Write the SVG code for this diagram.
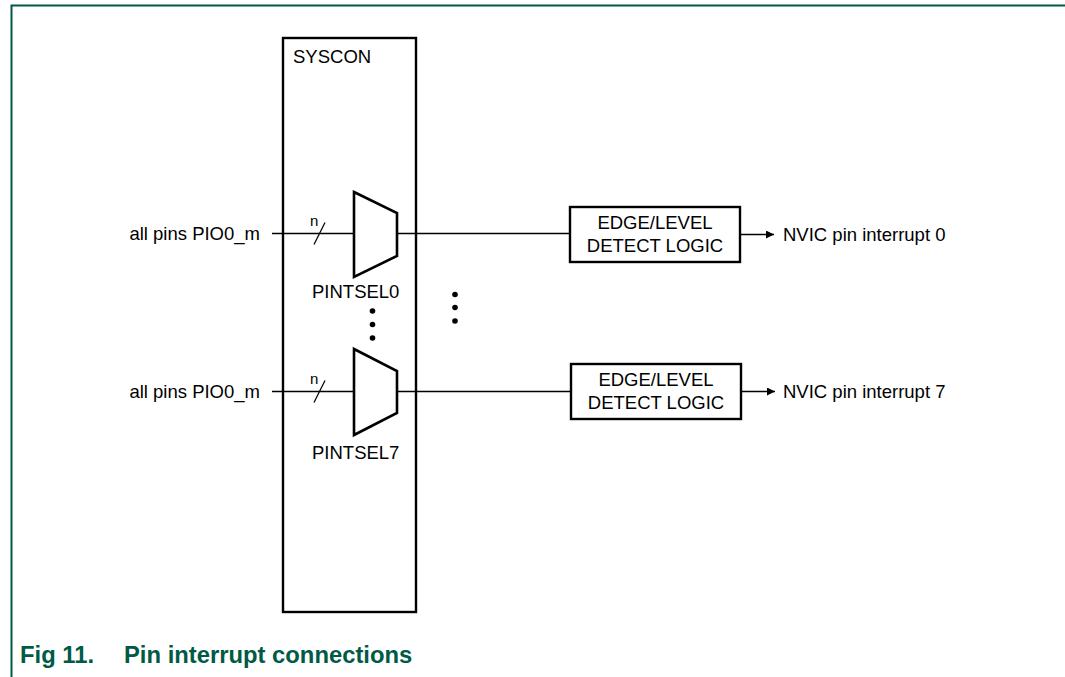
<svg xmlns="http://www.w3.org/2000/svg" width="1065" height="677" viewBox="0 0 1065 677">
<defs>
<style>
.t{font-family:"Liberation Sans",Arial,sans-serif;font-size:18.5px;fill:#000}
.c{text-anchor:middle}
.n{font-size:15px}
.ln{stroke:#000;stroke-width:1.3;fill:none}
.bx{stroke:#000;stroke-width:2.4;fill:#fff}
.mux{stroke:#000;stroke-width:2.6;fill:#fff;stroke-linejoin:miter}
.dot{fill:#000}
.cap{font-family:"Liberation Sans",Arial,sans-serif;font-size:23.8px;font-weight:bold;fill:#005A46}
</style>
<marker id="ah" viewBox="0 0 10 10" refX="10" refY="5" markerWidth="9" markerHeight="8" markerUnits="userSpaceOnUse" orient="auto">
<path d="M0,0 L10,5 L0,10 z" fill="#000"/>
</marker>
</defs>
<rect width="1065" height="677" fill="#fff"/>
<path d="M11.5,677 V5.5 H1065" stroke="#005A46" stroke-width="2" fill="none"/>

<g id="syscon">
<rect class="bx" x="283" y="38" width="133" height="574"/>
<text class="t" x="293" y="63">SYSCON</text>
</g>

<g id="connectors">
<line class="ln" x1="272" y1="233.5" x2="354" y2="233.5"/>
<line class="ln" x1="314" y1="244.5" x2="325" y2="222.5"/>
<line class="ln" x1="397" y1="233.5" x2="570" y2="233.5"/>
<line class="ln" x1="740" y1="234.5" x2="774" y2="234.5" marker-end="url(#ah)"/>
<line class="ln" x1="272" y1="391.5" x2="354" y2="391.5"/>
<line class="ln" x1="314" y1="402.5" x2="325" y2="380.5"/>
<line class="ln" x1="397" y1="391.5" x2="571" y2="391.5"/>
<line class="ln" x1="741" y1="391.5" x2="775" y2="391.5" marker-end="url(#ah)"/>
</g>

<g id="in0">
<text class="t" x="260" y="240" text-anchor="end">all pins PIO0_m</text>
<text class="t n" x="310" y="226">n</text>
</g>
<g id="in7">
<text class="t" x="260" y="398" text-anchor="end">all pins PIO0_m</text>
<text class="t n" x="310" y="384">n</text>
</g>

<g id="pintsel0">
<polygon class="mux" points="354,192 397,213 397,256 354,277"/>
<text class="t" x="312" y="298">PINTSEL0</text>
</g>
<g id="pintsel7">
<polygon class="mux" points="354,349 397,371 397,413 354,435"/>
<text class="t" x="312" y="459">PINTSEL7</text>
</g>

<g id="dots">
<circle class="dot" cx="372.5" cy="311" r="2.8"/>
<circle class="dot" cx="372.5" cy="324.5" r="2.8"/>
<circle class="dot" cx="372.5" cy="338" r="2.8"/>
<circle class="dot" cx="455" cy="294.5" r="2.8"/>
<circle class="dot" cx="455" cy="307.5" r="2.8"/>
<circle class="dot" cx="455" cy="321" r="2.8"/>
</g>

<g id="detect0">
<rect class="bx" x="570" y="207" width="170" height="55"/>
<text class="t c" x="655" y="229">EDGE/LEVEL</text>
<text class="t c" x="655" y="252">DETECT LOGIC</text>
</g>
<g id="detect7">
<rect class="bx" x="571" y="364" width="170" height="55"/>
<text class="t c" x="656" y="386">EDGE/LEVEL</text>
<text class="t c" x="656" y="409">DETECT LOGIC</text>
</g>

<g id="out0">
<text class="t" x="783" y="241">NVIC pin interrupt 0</text>
</g>
<g id="out7">
<text class="t" x="783" y="398">NVIC pin interrupt 7</text>
</g>

<g id="caption">
<text class="cap" x="20" y="663">Fig 11.</text>
<text class="cap" x="124" y="663">Pin interrupt connections</text>
</g>
</svg>
